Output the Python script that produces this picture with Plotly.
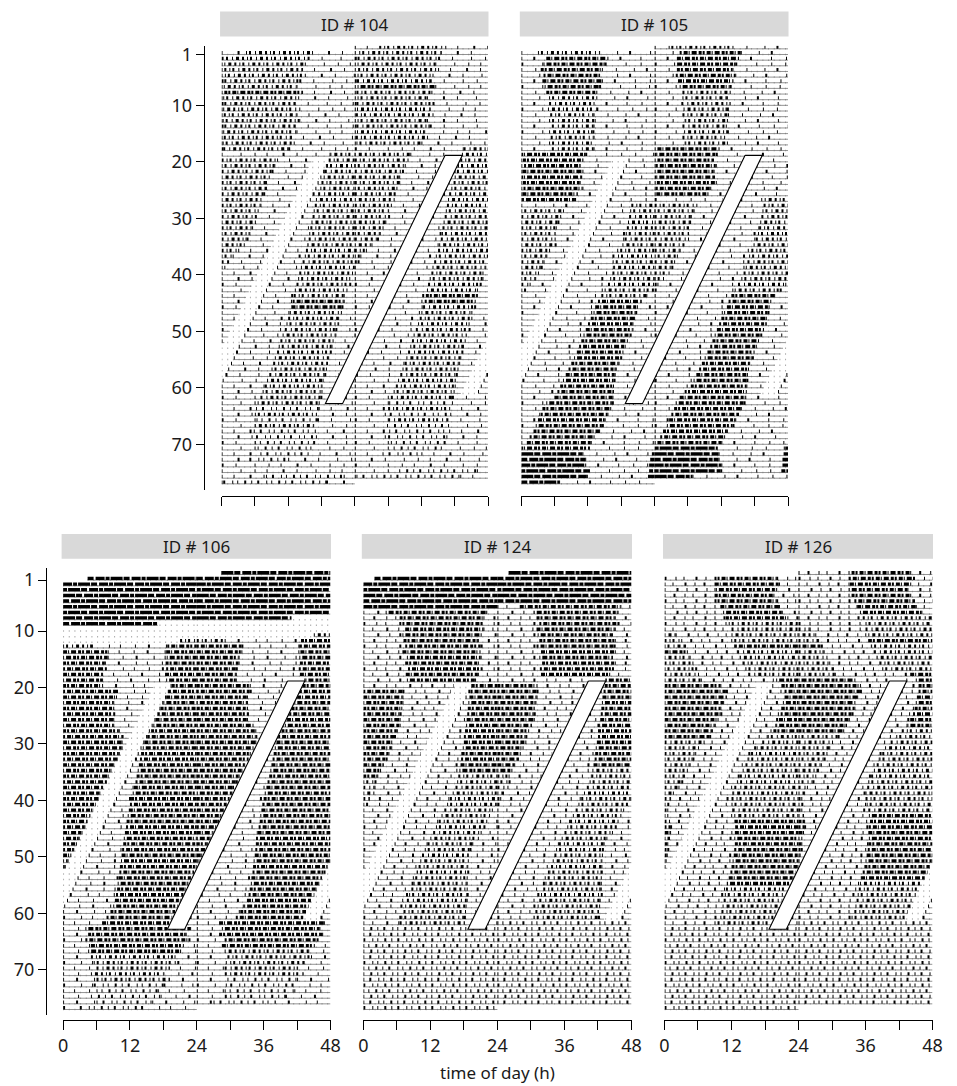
import plotly.graph_objects as go

# ---------------------------------------------------------------- data
N_DAYS = 77
TICK_DAYS = [1, 10, 20, 30, 40, 50, 60, 70]
HOUR_TICKS = [0, 6, 12, 18, 24, 30, 36, 42, 48]
HOUR_LABELS = ["0", "", "12", "", "24", "", "36", "", "48"]

# light pulses (shared schedule, days 20..63): onset hour, duration
light_days = list(range(20, 64))
light_on = [16.2, 15.7, 15.2, 14.7, 14.2, 13.8, 13.3, 12.8, 12.3, 11.8,
            11.3, 10.8, 10.3, 9.8, 9.3, 8.9, 8.4, 7.9, 7.4, 6.9,
            6.4, 5.9, 5.4, 4.9, 4.4, 4.0, 3.5, 3.0, 2.5, 2.0,
            1.5, 1.0, 0.5, 0.0, -0.5, -0.9, -1.4, -1.9, -2.4, -2.9,
            -3.4, -3.9, -4.4, -4.9]
light_len = 3.1

# main activity band per day: onset hour, offset hour (may run into next day), level
p104_on = [4.4, 0.8, 0.5, 0.5, 0.6, 0.5, 0.4, 0.5, 0.3, 0.5,
           0.3, 0.4, 0.2, 0.5, 0.3, 0.4, 0.2, 0.3, 19.6, 19.2,
           19.0, 18.6, 18.4, 18.0, 17.8, 17.4, 17.0, 16.8, 16.6, 16.4,
           16.2, 16.0, 15.8, 15.7, 15.5, 15.2, 15.0, 14.6, 14.3, 14.0,
           13.8, 13.5, 13.2, 13.0, 12.8, 12.6, 12.3, 12.0, 11.7, 11.4,
           11.0, 10.6, 10.3, 10.0, 9.6, 9.3, 9.0, 8.6, 8.2, 7.8,
           7.4, 7.0, 6.5, 6.2, 6.0, 6.3, 6.0, 5.8, 6.2, 6.0,
           6.5, 7.0, 5.0, 6.0, 6.0, 8.0, 0.3]
p104_off = [16.3, 15.5, 15.0, 14.5, 15.0, 14.0, 13.5, 14.5, 13.8, 13.0,
            14.0, 13.5, 14.0, 13.0, 13.5, 12.5, 13.0, 12.0, 34.0, 33.5,
            33.0, 32.5, 32.0, 32.0, 31.5, 31.0, 31.0, 30.5, 30.0, 30.0,
            29.5, 29.0, 28.5, 28.0, 27.0, 26.0, 25.0, 24.5, 24.0, 23.5,
            23.0, 23.0, 22.5, 22.0, 22.0, 21.6, 21.5, 21.0, 21.0, 20.5,
            20.5, 20.0, 19.8, 19.5, 19.2, 19.0, 18.8, 18.5, 18.2, 18.0,
            18.0, 17.8, 17.5, 17.5, 17.0, 17.2, 16.5, 16.8, 17.0, 16.5,
            16.0, 15.5, 12.0, 9.0, 9.0, 22.0, 19.0]
p104_lv = [2, 2, 2, 2, 2, 2, 2, 3, 2, 2,
           2, 2, 2, 2, 2, 2, 2, 2, 2, 2,
           2, 2, 2, 2, 2, 2, 2, 2, 2, 2,
           2, 2, 2, 2, 2, 2, 2, 2, 2, 2,
           2, 2, 2, 2, 3, 3, 2, 2, 2, 2,
           2, 2, 2, 2, 2, 2, 2, 2, 2, 2,
           2, 2, 2, 1, 2, 1, 2, 1, 1, 1,
           1, 1, 1, 0, 0, 1, 1]

p105_on = [3.0, 4.5, 4.0, 3.5, 4.0, 3.8, 4.2, 4.5, 5.0, 5.0,
           4.8, 5.2, 5.0, 5.5, 5.0, 5.3, 5.0, 5.5, 0.5, 0.3,
           0.5, 0.2, 0.5, 0.3, 0.4, 0.2, 0.3, 19.8, 19.6, 19.4,
           19.2, 19.0, 18.8, 18.6, 18.2, 17.8, 17.4, 17.0, 16.7, 16.4,
           16.0, 15.6, 15.0, 14.4, 13.8, 13.3, 13.0, 12.5, 12.0, 11.6,
           11.2, 10.8, 10.4, 10.0, 9.5, 9.0, 8.5, 8.0, 7.5, 7.0,
           6.5, 6.0, 4.5, 3.8, 3.5, 3.0, 2.6, 2.2, 1.5, 1.0,
           0.5, 0.0, -0.5, -0.8, -1.0, -1.0, -1.2]
p105_off = [14.0, 15.5, 15.0, 14.5, 14.0, 14.5, 14.0, 13.5, 13.5, 13.0,
            13.5, 13.0, 13.2, 13.0, 12.8, 13.0, 12.5, 13.0, 11.5, 11.0,
            10.5, 11.0, 10.6, 10.5, 11.0, 10.0, 9.5, 31.5, 31.0, 30.5,
            30.2, 30.0, 30.0, 30.0, 29.0, 28.5, 28.0, 27.5, 27.0, 26.5,
            25.5, 24.5, 23.5, 22.5, 21.5, 20.8, 20.5, 20.3, 20.0, 20.0,
            19.5, 19.0, 18.6, 18.2, 17.8, 17.5, 17.0, 16.8, 16.6, 16.5,
            16.5, 16.4, 16.3, 16.0, 15.5, 15.0, 14.5, 14.0, 13.0, 12.5,
            12.0, 11.0, 11.5, 11.5, 12.0, 11.8, 6.8]
p105_lv = [2, 3, 3, 3, 3, 3, 3, 3, 2, 2,
           2, 2, 2, 2, 2, 2, 2, 2, 3, 3,
           3, 3, 3, 3, 3, 3, 3, 2, 2, 2,
           2, 2, 2, 2, 2, 2, 2, 2, 2, 2,
           2, 2, 2, 2, 3, 3, 3, 3, 3, 3,
           3, 3, 3, 3, 3, 3, 3, 3, 3, 3,
           3, 3, 3, 3, 3, 3, 3, 3, 3, 3,
           3, 4, 4, 4, 4, 4, 4]

p106_on = [4.4, 0.0, 0.0, 0.0, 0.0, 0.0, 0.0, 0.0, 0.0, 0.0,
           0.0, 21.0, 18.7, 18.5, 18.6, 18.4, 18.5, 18.3, 18.5, 19.5,
           19.0, 18.5, 18.0, 17.5, 17.0, 16.6, 16.2, 15.8, 15.2, 14.6,
           14.3, 14.0, 13.8, 13.6, 13.4, 13.2, 13.0, 12.7, 12.5, 12.2,
           12.0, 11.8, 11.6, 11.4, 11.3, 11.1, 10.9, 10.8, 10.6, 10.5,
           10.4, 10.2, 10.1, 10.0, 9.8, 9.7, 9.5, 9.3, 9.0, 8.5,
           7.8, 7.0, 4.0, 4.5, 4.0, 5.0, 4.5, 5.0, 5.5, 6.0,
           5.0, 6.0, 5.5, 6.0, 5.0, 6.0, 3.0]
p106_off = [24.0, 24.0, 24.0, 24.0, 24.0, 24.0, 24.0, 24.0, 17.0, 0.0,
            0.0, 29.0, 32.0, 32.0, 31.5, 31.5, 31.0, 31.0, 31.0, 33.5,
            33.5, 33.0, 33.0, 33.0, 33.0, 33.0, 34.0, 34.5, 34.5, 34.5,
            34.0, 33.5, 33.0, 32.5, 32.0, 31.5, 31.0, 30.5, 30.3, 29.8,
            29.3, 28.8, 28.3, 27.8, 27.3, 26.8, 26.3, 25.8, 25.3, 24.8,
            24.3, 23.8, 23.3, 22.8, 22.3, 21.8, 21.3, 21.0, 20.8, 20.3,
            19.8, 19.5, 22.8, 22.0, 22.5, 21.5, 21.0, 20.0, 20.5, 19.0,
            18.0, 19.0, 18.0, 17.0, 17.5, 16.0, 14.0]
p106_lv = [4, 4, 4, 4, 4, 4, 4, 4, 4, 0,
           0, 2, 3, 3, 3, 3, 3, 3, 3, 3,
           3, 3, 3, 3, 3, 3, 3, 3, 3, 3,
           3, 3, 3, 3, 3, 3, 3, 3, 3, 3,
           3, 3, 3, 3, 3, 3, 3, 3, 3, 3,
           3, 3, 3, 3, 3, 3, 3, 3, 3, 3,
           3, 3, 3, 3, 3, 3, 3, 2, 2, 2,
           2, 2, 1, 1, 1, 1, 1]

p124_on = [2.0, 0.0, 0.0, 0.0, 0.0, 0.0, 4.0, 6.5, 7.0, 7.5,
           7.0, 7.2, 7.5, 7.0, 7.8, 7.5, 8.0, 7.6, 7.8, 19.4,
           19.2, 19.0, 18.8, 18.7, 18.6, 18.5, 18.4, 18.2, 18.0, 18.0,
           17.8, 17.6, 17.5, 17.4, 17.2, 17.0, 16.8, 16.5, 16.0, 15.5,
           15.0, 14.5, 14.0, 13.5, 13.0, 12.5, 12.0, 11.5, 11.0, 10.5,
           10.2, 9.9, 9.6, 9.3, 9.0, 8.6, 8.2, 7.8, 7.5, 7.2,
           6.8, 6.5, 0.0, 0.0, 0.0, 0.0, 0.0, 0.0, 0.0, 0.0,
           0.0, 0.0, 0.0, 0.0, 0.0, 0.0, 0.0]
p124_off = [24.0, 24.0, 24.0, 24.0, 24.0, 24.0, 22.0, 21.5, 21.0, 21.5,
            21.0, 20.5, 21.0, 20.8, 21.0, 20.5, 21.0, 20.5, 20.0, 31.0,
            31.0, 31.0, 30.8, 30.5, 30.5, 30.5, 30.0, 29.5, 29.0, 29.0,
            28.5, 28.0, 27.5, 27.0, 26.5, 26.0, 26.0, 25.8, 25.0, 24.5,
            23.8, 23.0, 22.5, 22.0, 21.5, 21.0, 20.5, 19.5, 19.0, 18.7,
            18.7, 18.6, 18.6, 18.5, 18.5, 18.5, 18.5, 18.5, 18.3, 18.2,
            18.0, 18.0, 24.0, 24.0, 24.0, 24.0, 24.0, 24.0, 24.0, 24.0,
            24.0, 24.0, 24.0, 24.0, 24.0, 24.0, 24.0]
p124_lv = [4, 4, 4, 4, 4, 4, 3, 3, 3, 3,
           3, 3, 3, 3, 3, 3, 3, 3, 3, 3,
           3, 3, 3, 3, 3, 3, 3, 3, 3, 3,
           3, 3, 3, 3, 3, 2, 2, 2, 2, 2,
           2, 2, 2, 2, 2, 2, 2, 2, 2, 2,
           2, 2, 2, 2, 2, 2, 2, 2, 2, 2,
           2, 2, 1, 1, 1, 1, 1, 1, 1, 1,
           1, 1, 1, 1, 1, 1, 1]

p126_on = [9.5, 9.0, 9.2, 9.0, 9.5, 10.0, 10.5, 11.0, 11.5, 12.0,
           12.0, 12.5, 12.6, 13.0, 13.5, 14.0, 14.5, 15.0, 20.0, 21.0,
           21.5, 21.5, 21.2, 21.0, 20.8, 20.5, 20.0, 19.5, 18.5, 17.5,
           16.5, 15.5, 15.0, 14.5, 14.0, 13.5, 13.0, 12.5, 12.3, 12.0,
           12.0, 12.2, 12.5, 12.6, 12.8, 12.6, 12.5, 12.6, 12.5, 12.4,
           12.2, 12.0, 11.8, 11.5, 11.2, 11.0, 10.8, 10.6, 10.4, 10.2,
           10.0, 9.5, 0.0, 0.0, 0.0, 0.0, 0.0, 0.0, 0.0, 0.0,
           0.0, 0.0, 0.0, 0.0, 0.0, 0.0, 0.0]
p126_off = [20.0, 20.5, 20.0, 19.5, 20.0, 20.5, 21.0, 22.0, 24.0, 26.0,
            27.0, 27.5, 28.0, 28.5, 29.0, 29.5, 30.0, 30.5, 34.0, 35.0,
            35.0, 34.5, 34.0, 34.0, 33.5, 33.0, 32.5, 32.0, 31.0, 30.0,
            29.5, 29.0, 28.5, 28.0, 27.5, 27.0, 26.5, 25.5, 25.0, 24.5,
            24.5, 24.5, 24.8, 25.0, 25.0, 24.8, 24.5, 24.5, 24.4, 24.2,
            24.0, 23.8, 23.5, 23.0, 23.0, 22.8, 22.6, 22.5, 22.0, 21.5,
            21.0, 20.5, 24.0, 24.0, 24.0, 24.0, 24.0, 24.0, 24.0, 24.0,
            24.0, 24.0, 24.0, 24.0, 24.0, 24.0, 24.0]
p126_lv = [3, 3, 3, 3, 3, 3, 3, 3, 2, 2,
           2, 2, 3, 2, 2, 2, 2, 2, 3, 3,
           3, 3, 3, 3, 3, 3, 3, 3, 2, 2,
           2, 2, 2, 2, 2, 2, 2, 2, 2, 2,
           2, 2, 2, 3, 3, 3, 3, 3, 3, 3,
           3, 3, 3, 3, 3, 2, 2, 2, 2, 2,
           2, 2, 1, 1, 1, 1, 1, 1, 1, 1,
           1, 1, 1, 1, 1, 1, 1]

# recording start hour on day 1, and no-activity stretch (day, hour) -> (day, hour)
rec_start = {"104": 0.0, "105": 0.0, "106": 4.4, "124": 2.0, "126": 0.0}
p106_blank = [(9, 17.0), (12, 21.0)]

ids = ["104", "105", "106", "124", "126"]
ons = [p104_on, p105_on, p106_on, p124_on, p126_on]
offs = [p104_off, p105_off, p106_off, p124_off, p126_off]
lvs = [p104_lv, p105_lv, p106_lv, p124_lv, p126_lv]
for arr in ons + offs + lvs:
    assert len(arr) == N_DAYS, len(arr)
assert len(light_on) == len(light_days)

# ---------------------------------------------------------------- geometry / style
W, H = 957, 1086
PITCH = 5.67
ROWS = [  # per figure row: y of day-1 baseline, y-axis span, x-axis line, title bar
    dict(y1=50.7, ytop=42, ybot=488, xline=494, bar=(7.5, 32.7), yaxis_x=202),
    dict(y1=578.3, ytop=566, ybot=1015, xline=1020, bar=(532.0, 556.7), yaxis_x=41.7),
]
PANEL_POS = [  # (figure row, x of 0 h, x of 48 h)
    (0, 220.0, 490.7), (0, 524.5, 795.5),
    (1, 59.0, 330.7), (1, 364.0, 636.5), (1, 670.0, 942.3),
]
FONT = "Noto Sans, Open Sans, Arial, sans-serif"
SPARSE_PAT = {
    "104": [1, 11, 1, 15, 2, 12, 1, 18, 1, 13],
    "105": [1, 13, 1, 17, 1, 11, 2, 19, 1, 14],
    "106": [1, 12, 2, 16, 1, 10, 1, 14],
    "124": [1, 9, 2, 11, 1, 8, 1, 13, 2, 10],
    "126": [1, 8, 2, 9, 1, 7, 1, 11, 2, 8],
}
LEVEL_PAT = {
    1: [1, 5, 2, 7, 1, 4, 1, 6, 2, 5],
    2: [2, 3, 1, 2, 2, 4, 1, 3, 3, 3],
    3: [3, 1, 2, 2, 4, 1, 1, 2, 5, 2],
    4: [12, 1, 6, 2, 9, 1, 4, 1],
}
MARK_W = 3.3
MARK_OFF = -0.31


# ---------------------------------------------------------------- helpers
def merge(iv):
    iv = sorted([list(p) for p in iv if p[1] > p[0]])
    out = []
    for a, b in iv:
        if out and a <= out[-1][1]:
            out[-1][1] = max(out[-1][1], b)
        else:
            out.append([a, b])
    return out


def subtract(iv, cuts):
    cuts = merge(cuts)
    res = []
    for a, b in iv:
        cur = a
        for c0, c1 in cuts:
            if c1 <= cur or c0 >= b:
                continue
            if c0 > cur:
                res.append([cur, c0])
            cur = max(cur, c1)
            if cur >= b:
                break
        if cur < b:
            res.append([cur, b])
    return res


def clip(iv, lo, hi):
    return [[max(a, lo), min(b, hi)] for a, b in iv if min(b, hi) > max(a, lo)]


def to_rows(iv):
    pieces = []
    for a, b in iv:
        t = a
        while t < b - 1e-9:
            k = int(t // 24)
            e = min(b, (k + 1) * 24)
            h0, h1 = t - 24 * k, e - 24 * k
            d = k + 1
            pieces.append((d, h0, h1))
            pieces.append((d - 1, h0 + 24, h1 + 24))
            t = e
    return pieces


def dash(pat, variant):
    rot = (2 * variant) % len(pat)
    p = pat[rot:] + pat[:rot]
    return ",".join(f"{v}px" for v in p)


fig = go.Figure()
layout = dict(
    width=W, height=H, autosize=False, margin=dict(l=0, r=0, t=0, b=0),
    paper_bgcolor="white", plot_bgcolor="white",
    showlegend=False, hovermode=False, shapes=[], annotations=[],
    font=dict(family=FONT, color="#1a1a1a"),
)

for i, pid in enumerate(ids):
    n = i + 1
    xn = "x" if n == 1 else f"x{n}"
    yn = "y" if n == 1 else f"y{n}"
    frow, x0p, x48p = PANEL_POS[i]
    g = ROWS[frow]
    r_top = 1 + (g["ytop"] - g["y1"]) / PITCH
    r_bot = 1 + (g["ybot"] - g["y1"]) / PITCH

    t_end = N_DAYS * 24.0
    rec = [[rec_start[pid], t_end]]
    gaps = [[24 * (d - 1) + h, 24 * (d - 1) + h + light_len] for d, h in zip(light_days, light_on)]
    if pid == "106":
        (bd0, bh0), (bd1, bh1) = p106_blank
        gaps.append([24 * (bd0 - 1) + bh0, 24 * (bd1 - 1) + bh1])
    gaps = merge(gaps)

    dense = {1: [], 2: [], 3: [], 4: []}
    for d, (a, b, lv) in enumerate(zip(ons[i], offs[i], lvs[i]), start=1):
        if lv > 0 and b > a:
            dense[lv].append([24 * (d - 1) + a, 24 * (d - 1) + b])
    all_dense = merge([p for v in dense.values() for p in v])

    def add_layer(iv, pat, color, width, yoff, nvar=4):
        groups = {}
        for r, a, b in to_rows(iv):
            groups.setdefault(r % nvar, []).append((r, a, b))
        for var, segs in groups.items():
            xs, ys = [], []
            for r, a, b in segs:
                xs += [a, b, None]
                ys += [r + yoff, r + yoff, None]
            fig.add_trace(go.Scatter(
                x=xs, y=ys, mode="lines", xaxis=xn, yaxis=yn,
                line=dict(color=color, width=width,
                          dash=(dash(pat, var) if pat else "solid")),
                hoverinfo="skip"))

    # hourly dots on every row, solid baseline where not in a light/blank gap
    add_layer(rec, [1, 4.67], "#a8a8a8", 1.5, 0.0, nvar=1)
    add_layer(subtract(rec, gaps), None, "#777777", 0.8, 0.0, nvar=1)
    # scattered background activity
    add_layer(subtract(subtract(rec, gaps), all_dense), SPARSE_PAT[pid], "black", MARK_W, MARK_OFF)
    # activity bands
    for lv in (1, 2, 3, 4):
        iv = subtract(clip(merge(dense[lv]), rec[0][0], t_end), gaps)
        add_layer(iv, LEVEL_PAT[lv], "black", MARK_W, MARK_OFF)

    # white band marking the light pulses (right-hand copy)
    r_first, r_last = light_days[0] - 1, light_days[-1] - 1
    slope = (light_on[-1] - light_on[0]) / (r_last - r_first)
    top_r, bot_r = r_first - 0.15, r_last + 0.78
    xt = light_on[0] + 24 + slope * (top_r - r_first)
    xb = light_on[-1] + 24 + slope * (bot_r - r_last)
    fig.add_trace(go.Scatter(
        x=[xt, xt + light_len, xb + light_len, xb, xt],
        y=[top_r, top_r, bot_r, bot_r, top_r],
        mode="lines", fill="toself", fillcolor="white",
        line=dict(color="black", width=1.1), xaxis=xn, yaxis=yn, hoverinfo="skip"))

    # axes
    xkey = "xaxis" if n == 1 else f"xaxis{n}"
    ykey = "yaxis" if n == 1 else f"yaxis{n}"
    layout[xkey] = dict(
        domain=[x0p / W, x48p / W], range=[0, 48], anchor="free",
        position=1 - g["xline"] / H, showline=True, linecolor="black", linewidth=1.2,
        ticks="outside", ticklen=9, tickwidth=1.2, tickcolor="black",
        tickvals=HOUR_TICKS, ticktext=HOUR_LABELS,
        showticklabels=(frow == 1), tickfont=dict(size=18, family=FONT, color="#1a1a1a"),
        showgrid=False, zeroline=False, fixedrange=True)
    left_panel = (i == 0 or i == 2)
    layout[ykey] = dict(
        domain=[1 - g["ybot"] / H, 1 - g["ytop"] / H], range=[r_bot, r_top],
        anchor="free", position=g["yaxis_x"] / W, visible=left_panel,
        showline=True, linecolor="black", linewidth=1.2,
        ticks="outside", ticklen=8, tickwidth=1.2, tickcolor="black",
        tickvals=TICK_DAYS, tickfont=dict(size=18, family=FONT, color="#1a1a1a"),
        showgrid=False, zeroline=False, fixedrange=True)

    # title bar
    b0, b1 = g["bar"]
    layout["shapes"].append(dict(
        type="rect", xref="paper", yref="paper",
        x0=(x0p - 1.5) / W, x1=(x48p + 0.5) / W, y0=1 - b1 / H, y1=1 - b0 / H,
        fillcolor="#d9d9d9", line=dict(width=0), layer="below"))
    layout["annotations"].append(dict(
        text=f"ID # {pid}", xref="paper", yref="paper",
        x=(x0p + x48p) / 2 / W, y=1 - (b0 + b1) / 2 / H,
        showarrow=False, xanchor="center", yanchor="middle",
        font=dict(size=17, family=FONT, color="#1a1a1a")))

layout["annotations"].append(dict(
    text="time of day (h)", xref="paper", yref="paper",
    x=500 / W, y=1 - 1072 / H, showarrow=False, xanchor="center", yanchor="middle",
    font=dict(size=17, family=FONT, color="#1a1a1a")))

fig.update_layout(**layout)
fig.write_html(
    "out.html",
    config={"responsive": False, "displayModeBar": False},
    post_script=("document.documentElement.style.overflow='hidden';"
                 "document.body.style.margin='0';document.body.style.overflow='hidden';"),
)
